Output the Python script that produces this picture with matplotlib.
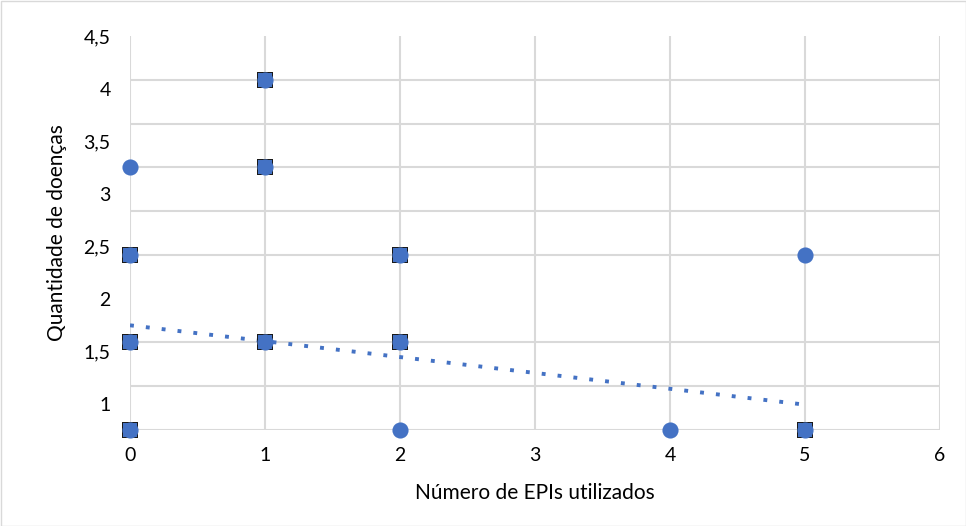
import numpy as np
import matplotlib
matplotlib.use("Agg")
import matplotlib.pyplot as plt
from matplotlib.patches import Rectangle
from matplotlib.ticker import FixedLocator, MultipleLocator

plt.rcParams['font.family'] = ['Lato', 'DejaVu Sans']

# respostas (EPIs, doenças) e quantas vezes cada par aparece
epis = [0, 0, 0, 0, 1, 1, 1, 2, 2, 2, 4, 5, 5]
doencas = [3, 2, 1, 0, 4, 3, 1, 2, 1, 0, 0, 2, 0]
repeticoes = [1, 2, 2, 10, 2, 2, 2, 2, 2, 1, 1, 1, 14]

# rótulos do eixo y como aparecem no gráfico original
ytick_labels = ["4,5", "4", "3,5", "3", "2,5", "2", "1,5", "1"]
xtick_values = [0, 1, 2, 3, 4, 5, 6]

azul = '#4472C4'
cinza = '#D9D9D9'

x = np.repeat(epis, repeticoes)
y = np.repeat(doencas, repeticoes)

fig = plt.figure(figsize=(9.66, 5.26), dpi=100)
ax = fig.add_axes([130/966, 1 - 430/526, 810/966, 394/526])

# grade
ax.set_xlim(0, 6)
ax.set_ylim(0, 4.5)
ax.xaxis.set_major_locator(FixedLocator(xtick_values))
ax.yaxis.set_minor_locator(MultipleLocator(0.5))
ax.grid(True, which='major', axis='x', color=cinza, lw=1.5)
ax.grid(True, which='minor', axis='y', color=cinza, lw=1.5)
for s in ax.spines.values():
    s.set_visible(False)

# rótulos y deslocados (como no Excel original)
pos = [4.5 - 0.6 * i for i in range(len(ytick_labels))]
ax.yaxis.set_major_locator(FixedLocator(pos))
ax.set_yticklabels(ytick_labels)
ax.tick_params(axis='both', which='both', length=0, labelsize=14, colors='#000000')
ax.tick_params(axis='y', pad=14)
ax.tick_params(axis='x', pad=12)

# pontos: repetidos ficam com "sombra" quadrada
ex = np.array(epis)
dn = np.array(doencas)
rp = np.array(repeticoes)
mult = rp > 1
ax.scatter(ex[mult], dn[mult], marker='s', s=135, color='#1a1a1a', zorder=3, clip_on=False, linewidths=0)
ax.scatter(ex[mult], dn[mult], marker='s', s=95, color=azul, zorder=4, clip_on=False, linewidths=0)
ax.scatter(ex, dn, marker='o', s=135, color=azul, zorder=5, clip_on=False, linewidths=0)

# linha de tendência linear
b, a = np.polyfit(x, y, 1)
xt = np.array([x.min(), x.max()])
ax.plot(xt, a + b * xt, color=azul, lw=2.8, linestyle=(0, (1, 3.1)), zorder=2)

ax.set_xlabel('Número de EPIs utilizados', fontsize=15, labelpad=14)
ax.set_ylabel('Quantidade de doenças', fontsize=15, labelpad=12)

fig.patches.append(Rectangle((0.5/966, 0.5/526), 965/966, 525/526, transform=fig.transFigure,
                             fill=False, edgecolor=cinza, lw=1))

fig.savefig('out.png', dpi=100)
